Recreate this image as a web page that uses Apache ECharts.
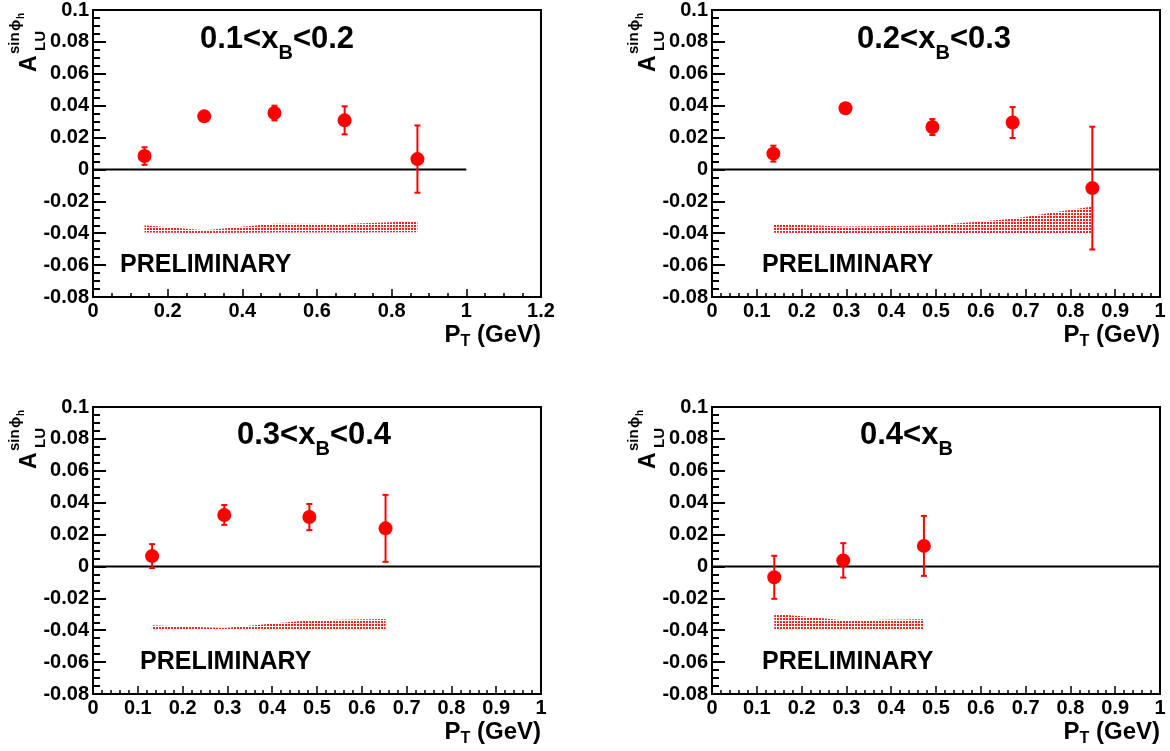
<!DOCTYPE html>
<html><head><meta charset="utf-8">
<script src="https://cdn.jsdelivr.net/npm/echarts@6/dist/echarts.min.js"></script>
<style>html,body{margin:0;padding:0;background:#fff}#c{width:1170px;height:751px}</style>
</head><body><div id="c"></div>
<script>
// ---------------- DATA ----------------
const pt1 = [0.138, 0.298, 0.486, 0.674, 0.869];
const asym1 = [0.0084, 0.0333, 0.0354, 0.0308, 0.0065];
const err1 = [0.0055, 0.0015, 0.0046, 0.0088, 0.0211];
const sysLo1 = [-0.0395, -0.0398, -0.0396, -0.0395, -0.0394];
const sysHi1 = [-0.0350, -0.0382, -0.0340, -0.0342, -0.0325];

const pt2 = [0.137, 0.298, 0.492, 0.671, 0.849];
const asym2 = [0.0099, 0.0384, 0.0266, 0.0294, -0.0117];
const err2 = [0.0050, 0.0015, 0.0050, 0.0097, 0.0385];
const sysLo2 = [-0.0397, -0.0400, -0.0400, -0.0400, -0.0400];
const sysHi2 = [-0.0342, -0.0358, -0.0352, -0.0310, -0.0233];

const pt3 = [0.132, 0.293, 0.483, 0.653];
const asym3 = [0.0065, 0.0323, 0.0310, 0.0239];
const err3 = [0.0075, 0.0062, 0.0082, 0.0210];
const sysLo3 = [-0.0397, -0.0398, -0.0397, -0.0397];
const sysHi3 = [-0.0369, -0.0386, -0.0337, -0.0329];

const pt4 = [0.139, 0.293, 0.473];
const asym4 = [-0.0068, 0.0038, 0.0129];
const err4 = [0.0135, 0.0108, 0.0188];
const sysLo4 = [-0.0397, -0.0397, -0.0397];
const sysHi4 = [-0.0296, -0.0337, -0.0331];

const titleHead = ['0.1<x', '0.2<x', '0.3<x', '0.4<x'];
const titleSub = ['B', 'B', 'B', 'B'];
const titleTail = ['<0.2', '<0.3', '<0.4', ''];
const xMaxes = [1.2, 1, 1, 1];
const xSteps = [0.2, 0.1, 0.1, 0.1];
const xMinorSplits = [4, 5, 5, 5];
const yMin = -0.08, yMax = 0.1, yStep = 0.02;
const zeroLineX = [0, 1];
const prelimText = 'PRELIMINARY';
const xTitle = ['P', 'T', ' (GeV)'];
const yTitle = ['A', 'LU', 'sin', 'ϕ', 'h'];

// ---------------- LAYOUT ----------------
const PT = [pt1, pt2, pt3, pt4];
const AS = [asym1, asym2, asym3, asym4];
const ER = [err1, err2, err3, err4];
const LO = [sysLo1, sysLo2, sysLo3, sysLo4];
const HI = [sysHi1, sysHi2, sysHi3, sysHi4];
const offX = [0, 619, 0, 619];
const offY = [0, 0, 397, 397];
const titleX = [200, 857, 237, 860];
const prelimX = [120, 762, 140, 762];
const FONT = '"Liberation Sans", Arial, Helvetica, sans-serif';
const RED = '#ff0000';

// dotted fill pattern for the systematic band
const pc = document.createElement('canvas');
pc.width = 3; pc.height = 3;
const pctx = pc.getContext('2d');
pctx.fillStyle = '#ff2020';
pctx.fillRect(0, 0, 2, 2);

const mctx = document.createElement('canvas').getContext('2d');
function tw(t, size) { mctx.font = 'bold ' + size + 'px ' + FONT; return mctx.measureText(t).width; }

function fmt(v) { const r = parseFloat(Number(v).toFixed(3)); return String(r); }

const grids = [], xAxes = [], yAxes = [], series = [], graphics = [];

function txt(x, y, t, size, opts) {
  opts = opts || {};
  return {
    type: 'text', x: x, y: y, rotation: opts.rot || 0, silent: true, z: 100,
    style: { text: t, font: 'bold ' + size + 'px ' + FONT, fill: '#000',
      align: opts.align || 'left', verticalAlign: 'middle' }
  };
}

for (let i = 0; i < 4; i++) {
  const ox = offX[i], oy = offY[i];
  grids.push({ left: 93 + ox, top: 10 + oy, width: 448, height: 287,
    show: true, borderColor: '#000', borderWidth: 2, backgroundColor: 'transparent' });
  xAxes.push({ gridIndex: i, type: 'value', min: 0, max: xMaxes[i], interval: xSteps[i],
    axisLine: { show: true, onZero: false, lineStyle: { color: '#000', width: 2 } },
    axisTick: { show: true, inside: true, length: 8, lineStyle: { color: '#000', width: 1.5 } },
    minorTick: { show: true, splitNumber: xMinorSplits[i], length: 4, lineStyle: { color: '#000', width: 1.5 } },
    splitLine: { show: false },
    axisLabel: { fontFamily: FONT, fontWeight: 'bold', fontSize: 20, color: '#000', margin: 4,
      showMinLabel: true, showMaxLabel: true, formatter: fmt }
  });
  yAxes.push({ gridIndex: i, type: 'value', min: yMin, max: yMax, interval: yStep,
    axisLine: { show: true, onZero: false, lineStyle: { color: '#000', width: 2 } },
    axisTick: { show: true, inside: true, length: 13, lineStyle: { color: '#000', width: 2 } },
    minorTick: { show: true, splitNumber: 4, length: 7, lineStyle: { color: '#000', width: 2 } },
    splitLine: { show: false },
    axisLabel: { fontFamily: FONT, fontWeight: 'bold', fontSize: 20, color: '#000', margin: 4,
      showMinLabel: true, showMaxLabel: true, formatter: fmt }
  });

  const px = PT[i], ay = AS[i], er = ER[i], lo = LO[i], hi = HI[i];
  // systematic band
  series.push({
    type: 'custom', xAxisIndex: i, yAxisIndex: i, silent: true, z: 1,
    data: px.map((x, j) => [x, lo[j], hi[j]]),
    renderItem: function (params, api) {
      if (params.dataIndex !== 0) return { type: 'group', children: [] };
      const pts = [];
      for (let j = 0; j < px.length; j++) pts.push(api.coord([px[j], hi[j]]));
      for (let j = px.length - 1; j >= 0; j--) pts.push(api.coord([px[j], lo[j]]));
      return { type: 'polygon', shape: { points: pts },
        style: { fill: { image: pc, repeat: 'repeat' }, stroke: null } };
    }
  });
  // zero line
  series.push({
    type: 'line', xAxisIndex: i, yAxisIndex: i, silent: true, z: 2,
    data: zeroLineX.map(x => [x, 0]), symbol: 'none',
    lineStyle: { color: '#000', width: 2 }
  });
  // error bars
  series.push({
    type: 'custom', xAxisIndex: i, yAxisIndex: i, silent: true, z: 3,
    data: px.map((x, j) => [x, ay[j], er[j]]),
    renderItem: function (params, api) {
      const x = api.value(0), y = api.value(1), e = api.value(2);
      const top = api.coord([x, y + e]), bot = api.coord([x, y - e]);
      const st = { stroke: RED, lineWidth: 2 };
      return { type: 'group', children: [
        { type: 'line', shape: { x1: top[0], y1: top[1], x2: bot[0], y2: bot[1] }, style: st },
        { type: 'line', shape: { x1: top[0] - 3, y1: top[1], x2: top[0] + 3, y2: top[1] }, style: st },
        { type: 'line', shape: { x1: bot[0] - 3, y1: bot[1], x2: bot[0] + 3, y2: bot[1] }, style: st }
      ] };
    }
  });
  // points
  series.push({
    type: 'scatter', xAxisIndex: i, yAxisIndex: i, z: 4, silent: true,
    data: px.map((x, j) => [x, ay[j]]), symbol: 'circle', symbolSize: 14,
    itemStyle: { color: RED, opacity: 1 }
  });

  // title
  let tx = titleX[i];
  const ty = 39 + oy - (i >= 2 ? 1 : 0);
  graphics.push(txt(tx, ty, titleHead[i], 31));
  tx += tw(titleHead[i], 31);
  graphics.push(txt(tx, ty + 14.5, titleSub[i], 20));
  tx += tw(titleSub[i], 20);
  if (titleTail[i]) graphics.push(txt(tx, ty, titleTail[i], 31));

  // PRELIMINARY
  graphics.push(txt(prelimX[i], 265 + oy, prelimText, 25));

  // x title, right aligned at grid right
  const wT = tw(xTitle[0], 24) + tw(xTitle[1], 16) + tw(xTitle[2], 24);
  let xx = 541 + ox - wT;
  graphics.push(txt(xx, 335 + oy, xTitle[0], 24));
  xx += tw(xTitle[0], 24);
  graphics.push(txt(xx, 342 + oy, xTitle[1], 16));
  xx += tw(xTitle[1], 16);
  graphics.push(txt(xx, 335 + oy, xTitle[2], 24));

  // y title (rotated)
  const R = Math.PI / 2;
  graphics.push(txt(29.5 + ox, 72 + oy, yTitle[0], 23, { rot: R }));
  graphics.push(txt(41 + ox, 51 + oy, yTitle[1], 15, { rot: R }));
  graphics.push(txt(15 + ox, 54 + oy, yTitle[2], 15, { rot: R }));
  graphics.push(txt(15.5 + ox, 31 + oy, yTitle[3], 15, { rot: R }));
  graphics.push(txt(21 + ox, 19 + oy, yTitle[4], 10, { rot: R }));
}

const chart = echarts.init(document.getElementById('c'), null, { renderer: 'canvas' });
chart.setOption({
  animation: false,
  backgroundColor: '#fff',
  grid: grids, xAxis: xAxes, yAxis: yAxes, series: series,
  graphic: graphics
});
</script></body></html>
